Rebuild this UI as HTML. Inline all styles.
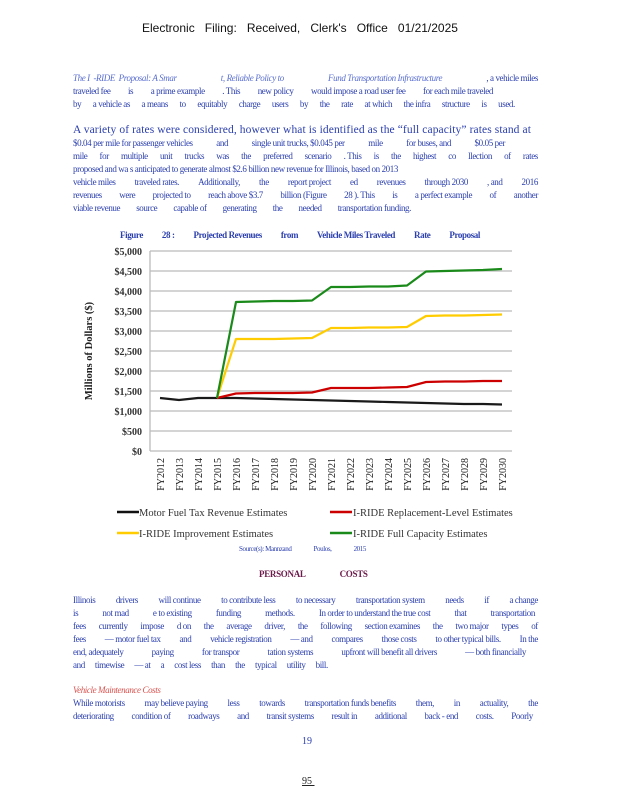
<!DOCTYPE html>
<html><head><meta charset="utf-8"><style>
body{margin:0;background:#fff;}
#p{position:relative;width:618px;height:800px;overflow:hidden;font-family:"Liberation Serif",serif;}
.l{position:absolute;left:73px;width:465px;display:flex;justify-content:space-between;font-size:9px;color:#2b3fae;white-space:nowrap;letter-spacing:-0.4px;line-height:11px;}
.a{position:absolute;white-space:nowrap;}
</style></head><body><div id="p">
<div class="a" style="left:142px;top:21px;width:316px;display:flex;justify-content:space-between;font-family:'Liberation Sans',sans-serif;font-size:12px;color:#111;"><span>Electronic</span><span>Filing:</span><span>Received,</span><span>Clerk's</span><span>Office</span><span>01/21/2025</span></div>

<div class="l" style="top:73px"><i style="color:#5a6fd0">The I&nbsp; -RIDE&nbsp; Proposal: A Smar</i><i style="color:#5a6fd0">t, Reliable Policy to</i><i style="color:#5a6fd0">Fund Transportation Infrastructure</i><span>, a vehicle miles</span></div>
<div class="l" style="top:86px;width:420px"><span>traveled fee</span><span>is</span><span>a prime example</span><span>. This</span><span>new policy</span><span>would impose a road user fee</span><span>for each mile traveled</span></div>
<div class="l" style="top:99px;width:442px"><span>by</span><span>a vehicle as</span><span>a means</span><span>to</span><span>equitably</span><span>charge</span><span>users</span><span>by</span><span>the</span><span>rate</span><span>at which</span><span>the infra</span><span>structure</span><span>is</span><span>used.</span></div>

<div class="a" style="left:73px;top:124px;font-size:11.5px;color:#2b3fae;letter-spacing:0.1px">A variety of rates were considered, however what is identified as the “full capacity” rates stand at</div>
<div class="l" style="top:138px;width:432px"><span>$0.04 per mile for passenger vehicles</span><span>and</span><span>single unit trucks, $0.045 per</span><span>mile</span><span>for buses, and</span><span>$0.05 per</span></div>
<div class="l" style="top:151px"><span>mile</span><span>for</span><span>multiple</span><span>unit</span><span>trucks</span><span>was</span><span>the</span><span>preferred</span><span>scenario</span><span>. This</span><span>is</span><span>the</span><span>highest</span><span>co</span><span>llection</span><span>of</span><span>rates</span></div>
<div class="l" style="top:164px;width:325px"><span>proposed and</span><span>wa s</span><span>anticipated to generate almost $2.6 billion new revenue for Illinois, based on 2013</span></div>
<div class="l" style="top:177px"><span>vehicle miles</span><span>traveled rates.</span><span>Additionally,</span><span>the</span><span>report project</span><span>ed</span><span>revenues</span><span>through 2030</span><span>, and</span><span>2016</span></div>
<div class="l" style="top:190px"><span>revenues</span><span>were</span><span>projected to</span><span>reach above $3.7</span><span>billion (Figure</span><span>28 ). This</span><span>is</span><span>a perfect example</span><span>of</span><span>another</span></div>
<div class="l" style="top:203px;width:338px"><span>viable revenue</span><span>source</span><span>capable of</span><span>generating</span><span>the</span><span>needed</span><span>transportation funding.</span></div>

<div class="l" style="top:230px;left:120px;width:360px;font-weight:bold;font-size:9px"><span>Figure</span><span>28 :</span><span>Projected Revenues</span><span>from</span><span>Vehicle Miles Traveled</span><span>Rate</span><span>Proposal</span></div>

<svg class="a" style="left:0;top:0" width="618" height="800" font-family="Liberation Serif, serif">
<g stroke="#bbb" stroke-width="1.3">
<line x1="150" x2="512" y1="251" y2="251"/><line x1="150" x2="512" y1="271" y2="271"/><line x1="150" x2="512" y1="291" y2="291"/><line x1="150" x2="512" y1="311" y2="311"/><line x1="150" x2="512" y1="331" y2="331"/><line x1="150" x2="512" y1="351" y2="351"/><line x1="150" x2="512" y1="371" y2="371"/><line x1="150" x2="512" y1="391" y2="391"/><line x1="150" x2="512" y1="411" y2="411"/><line x1="150" x2="512" y1="431" y2="431"/><line x1="150" x2="512" y1="451" y2="451"/>
<line x1="150" x2="150" y1="251" y2="451"/>
</g>
<g font-size="10" font-weight="bold" fill="#333" text-anchor="end">
<text x="142" y="255">$5,000</text><text x="142" y="275">$4,500</text><text x="142" y="295">$4,000</text><text x="142" y="315">$3,500</text><text x="142" y="335">$3,000</text><text x="142" y="355">$2,500</text><text x="142" y="375">$2,000</text><text x="142" y="395">$1,500</text><text x="142" y="415">$1,000</text><text x="142" y="435">$500</text><text x="142" y="455">$0</text>
</g>
<text transform="translate(92,351) rotate(-90)" text-anchor="middle" font-size="10.5" font-weight="bold" fill="#222">Millions of Dollars ($)</text>
<g font-size="10" fill="#222" text-anchor="end">
<text transform="translate(164,458) rotate(-90)">FY2012</text><text transform="translate(183,458) rotate(-90)">FY2013</text><text transform="translate(202,458) rotate(-90)">FY2014</text><text transform="translate(221,458) rotate(-90)">FY2015</text><text transform="translate(240,458) rotate(-90)">FY2016</text><text transform="translate(259,458) rotate(-90)">FY2017</text><text transform="translate(278,458) rotate(-90)">FY2018</text><text transform="translate(297,458) rotate(-90)">FY2019</text><text transform="translate(316,458) rotate(-90)">FY2020</text><text transform="translate(335,458) rotate(-90)">FY2021</text><text transform="translate(354,458) rotate(-90)">FY2022</text><text transform="translate(373,458) rotate(-90)">FY2023</text><text transform="translate(392,458) rotate(-90)">FY2024</text><text transform="translate(411,458) rotate(-90)">FY2025</text><text transform="translate(430,458) rotate(-90)">FY2026</text><text transform="translate(449,458) rotate(-90)">FY2027</text><text transform="translate(468,458) rotate(-90)">FY2028</text><text transform="translate(487,458) rotate(-90)">FY2029</text><text transform="translate(506,458) rotate(-90)">FY2030</text>
</g>
<g fill="none" stroke-width="2.2" stroke-linejoin="round">
<polyline stroke="#1a1a1a" points="160,398 179,400 198,398 217,398 236,398 255,398.5 274,399 293,399.5 312,400 331,400.5 350,401 369,401.5 388,402 407,402.5 426,403 445,403.5 464,404 483,404 502,404.5"/>
<polyline stroke="#cc0000" points="217,398 236,393.5 255,393 274,393 293,393 312,392.5 331,388 350,388 369,388 388,387.5 407,387 426,382 445,381.5 464,381.5 483,381 502,381"/>
<polyline stroke="#ffcc00" points="217,398 236,339 255,339 274,339 293,338.5 312,338 331,328 350,328 369,327.5 388,327.5 407,327 426,316 445,315.5 464,315.5 483,315 502,314.5"/>
<polyline stroke="#1a8a1a" points="217,398 236,302 255,301.5 274,301 293,301 312,300.5 331,287 350,287 369,286.5 388,286.5 407,285.5 426,271.5 445,271 464,270.5 483,270 502,269"/>
</g>
<g stroke-width="2.5">
<line x1="117" x2="139" y1="512" y2="512" stroke="#111"/><line x1="330" x2="352" y1="512" y2="512" stroke="#cc0000"/>
<line x1="117" x2="139" y1="533" y2="533" stroke="#ffcc00"/><line x1="330" x2="352" y1="533" y2="533" stroke="#1a8a1a"/>
</g>
<g font-size="10.5" fill="#333">
<text x="139" y="516">Motor Fuel Tax Revenue Estimates</text><text x="353" y="516">I-RIDE Replacement-Level Estimates</text>
<text x="139" y="537">I-RIDE Improvement Estimates</text><text x="353" y="537">I-RIDE Full Capacity Estimates</text>
</g>
</svg>

<div class="l" style="top:544px;left:239px;width:127px;font-size:7px"><span>Source(s): Mannzand</span><span>Poulos,</span><span>2015</span></div>
<div class="a" style="left:259px;top:569px;font-size:9px;font-weight:bold;color:#6b1a4a;letter-spacing:-0.3px">PERSONAL<span style="display:inline-block;width:34px"></span>COSTS</div>

<div class="l" style="top:595px"><span>Illinois</span><span>drivers</span><span>will continue</span><span>to contribute less</span><span>to necessary</span><span>transportation system</span><span>needs</span><span>if</span><span>a change</span></div>
<div class="l" style="top:608px;width:462px"><span>is</span><span>not mad</span><span>e to existing</span><span>funding</span><span>methods.</span><span>In order to understand the true cost</span><span>that</span><span>transportation</span></div>
<div class="l" style="top:621px"><span>fees</span><span>currently</span><span>impose</span><span>d on</span><span>the</span><span>average</span><span>driver,</span><span>the</span><span>following</span><span>section examines</span><span>the</span><span>two major</span><span>types</span><span>of</span></div>
<div class="l" style="top:634px"><span>fees</span><span>— motor fuel tax</span><span>and</span><span>vehicle registration</span><span>— and</span><span>compares</span><span>those costs</span><span>to other typical bills.</span><span>In the</span></div>
<div class="l" style="top:647px;width:453px"><span>end, adequately</span><span>paying</span><span>for transpor</span><span>tation systems</span><span>upfront will benefit all drivers</span><span>— both financially</span></div>
<div class="l" style="top:660px;width:255px"><span>and</span><span>timewise</span><span>— at</span><span>a</span><span>cost less</span><span>than</span><span>the</span><span>typical</span><span>utility</span><span>bill.</span></div>
<div class="a" style="left:73px;top:685px;font-size:9px;font-style:italic;color:#d9534f;letter-spacing:-0.4px">Vehicle Maintenance Costs</div>
<div class="l" style="top:698px"><span>While motorists</span><span>may believe paying</span><span>less</span><span>towards</span><span>transportation funds benefits</span><span>them,</span><span>in</span><span>actuality,</span><span>the</span></div>
<div class="l" style="top:711px;width:460px"><span>deteriorating</span><span>condition of</span><span>roadways</span><span>and</span><span>transit systems</span><span>result in</span><span>additional</span><span>back - end</span><span>costs.</span><span>Poorly</span></div>
<div class="a" style="left:302px;top:736px;font-size:10px;color:#2b3fae">19</div>
<div class="a" style="left:302px;top:776px;font-size:10px;color:#222;text-decoration:underline">95&nbsp;</div>
</div></body></html>
